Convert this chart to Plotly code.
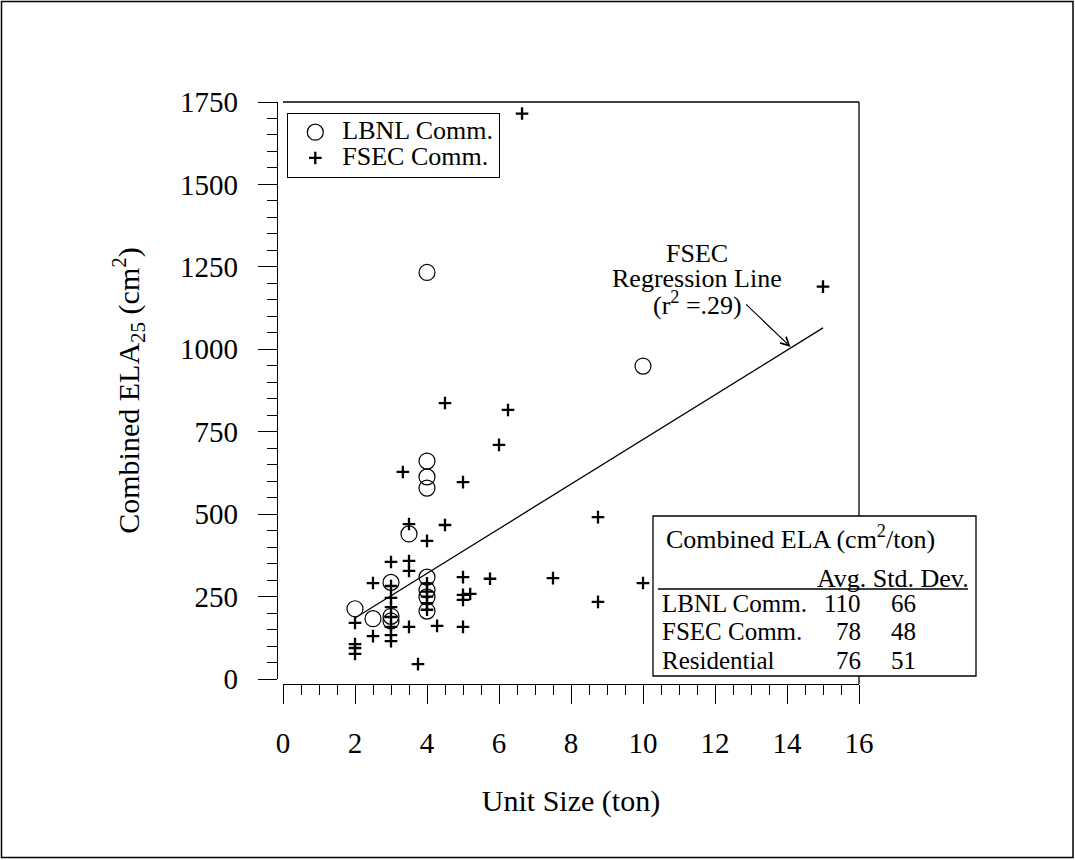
import plotly.graph_objects as go

# ---------------- data ----------------
lbnl_x = [2, 2.5, 3, 3, 3, 3.5, 4, 4, 4, 4, 4, 4, 4, 4, 10]
lbnl_y = [213, 183, 293, 190, 176, 440, 1233, 661, 613, 579, 309, 270, 249, 206, 949]

fsec_x = [2, 2, 2, 2, 2.5, 2.5, 3, 3, 3, 3, 3, 3, 3, 3, 3.33, 3.5, 3.5, 3.5, 3.5,
          3.75, 4, 4, 4, 4, 4, 4, 4.28, 4.5, 4.5, 5, 5, 5, 5, 5, 5.2, 5.75, 6,
          6.25, 6.64, 7.5, 8.75, 8.75, 10, 15]
fsec_y = [170, 106, 94, 76, 291, 130, 355, 282, 246, 218, 188, 158, 133, 115, 628,
          470, 358, 328, 158, 45, 419, 290, 265, 250, 230, 210, 161, 837, 467, 597,
          309, 255, 240, 158, 258, 304, 710, 816, 1715, 306, 491, 234, 291, 1190]

reg_x = [2, 15]
reg_y = [185, 1065]

x_ticks = [0, 2, 4, 6, 8, 10, 12, 14, 16]
y_ticks = [0, 250, 500, 750, 1000, 1250, 1500, 1750]

series_names = ["LBNL Comm.", "FSEC Comm."]

table_title = "Combined ELA (cm<sup>2</sup>/ton)"
table_header = "Avg. Std. Dev."
table_rows = ["LBNL Comm.", "FSEC Comm.", "Residential"]
table_avg = [110, 78, 76]
table_std = [66, 48, 51]

annot_lines = ["FSEC", "Regression Line", "(r<sup>2</sup> =.29)"]

# ---------------- layout helpers ----------------
W, H = 1075, 860
FONT = "Liberation Serif, Times New Roman, serif"


def fx(px):
    return px / W


def fy(py):
    return 1 - py / H


def big(t):
    return '<span style="font-size:26px">' + t + '</span>'


fig = go.Figure()

fig.add_trace(go.Scatter(
    x=lbnl_x, y=lbnl_y, mode="markers", name=big(series_names[0]),
    marker=dict(symbol="circle-open", size=16, color="black", line=dict(width=1.2)),
))
fig.add_trace(go.Scatter(
    x=fsec_x, y=fsec_y, mode="markers", name=big(series_names[1]),
    marker=dict(symbol="cross-thin-open", size=9, color="black", line=dict(width=2.3, color="black")),
))
fig.add_trace(go.Scatter(
    x=reg_x, y=reg_y, mode="lines", name="FSEC Regression", showlegend=False,
    line=dict(color="black", width=1.3),
))

shapes = [
    # outer border
    dict(type="rect", xref="paper", yref="paper", x0=fx(1.5), x1=fx(1073), y0=fy(857.5), y1=fy(1.5),
         line=dict(color="black", width=1.5), layer="above"),
    # top frame
    dict(type="line", xref="paper", yref="paper", x0=fx(283), x1=fx(859), y0=fy(102), y1=fy(102),
         line=dict(color="black", width=1.3), layer="above"),
    # right frame
    dict(type="line", xref="paper", yref="paper", x0=fx(859), x1=fx(859), y0=fy(102), y1=fy(684),
         line=dict(color="black", width=1.3), layer="above"),
    # table box
    dict(type="rect", xref="paper", yref="paper", x0=fx(653), x1=fx(976), y0=fy(676), y1=fy(516),
         line=dict(color="black", width=1.3), fillcolor="white", layer="above"),
    # table rule
    dict(type="line", xref="paper", yref="paper", x0=fx(658), x1=fx(968), y0=fy(589), y1=fy(589),
         line=dict(color="black", width=1.3), layer="above"),
]

ann = []
# regression annotation text
for i, t in enumerate(annot_lines):
    ann.append(dict(xref="paper", yref="paper", x=fx(697), y=fy(254 + 24.5 * i), text=t,
                    showarrow=False, xanchor="center", yanchor="middle",
                    font=dict(family=FONT, size=26, color="black")))
# arrow
ann.append(dict(xref="x", yref="y", x=14.1, y=1007, ax=-46, ay=-44, text="",
                showarrow=True, arrowhead=5, arrowsize=1.4, arrowwidth=1.2, arrowcolor="black"))

# table
tf = dict(family=FONT, size=25, color="black")
ann.append(dict(xref="paper", yref="paper", x=fx(664), y=fy(537), text=table_title, showarrow=False,
                xanchor="left", yanchor="middle", font=dict(family=FONT, size=26, color="black")))
ann.append(dict(xref="paper", yref="paper", x=fx(971), y=fy(578), text=table_header, showarrow=False,
                xanchor="right", yanchor="middle", font=dict(family=FONT, size=26, color="black")))
for i, (r, a, s) in enumerate(zip(table_rows, table_avg, table_std)):
    yy = fy(603 + 28.5 * i)
    ann.append(dict(xref="paper", yref="paper", x=fx(660), y=yy, text=r, showarrow=False,
                    xanchor="left", yanchor="middle", font=tf))
    ann.append(dict(xref="paper", yref="paper", x=fx(863), y=yy, text=str(a), showarrow=False,
                    xanchor="right", yanchor="middle", font=tf))
    ann.append(dict(xref="paper", yref="paper", x=fx(889), y=yy, text=str(s), showarrow=False,
                    xanchor="left", yanchor="middle", font=tf))

fig.update_layout(
    template="none",
    width=W, height=H,
    margin=dict(l=0, r=0, t=0, b=0, pad=0, autoexpand=False),
    paper_bgcolor="white", plot_bgcolor="white",
    font=dict(family=FONT, size=29, color="black"),
    showlegend=True,
    legend=dict(x=fx(287), y=fy(113), xanchor="left", yanchor="top",
                bordercolor="black", borderwidth=1.3, bgcolor="white",
                font=dict(family=FONT, size=17.5, color="black"),
                tracegroupgap=0, itemsizing="trace", itemwidth=44),
    xaxis=dict(domain=[fx(283), fx(859)], range=[0, 16], anchor="free", position=fy(684),
               automargin=False,
               tickvals=x_ticks, ticktext=[str(v) for v in x_ticks],
               ticks="outside", ticklen=19, tickwidth=1.3, tickcolor="black",
               showline=True, linecolor="black", linewidth=1.3, showgrid=False, zeroline=False,
               minor=dict(dtick=0.5, ticks="outside", ticklen=10, tickwidth=1.3, tickcolor="black"),
               tickfont=dict(size=29), ticklabelstandoff=14,
               title=dict(text="Unit Size (ton)", font=dict(size=30), standoff=32)),
    yaxis=dict(domain=[fy(679), fy(102)], range=[0, 1750], anchor="free", position=fx(277),
               automargin=False,
               tickvals=y_ticks, ticktext=[str(v) for v in y_ticks],
               ticks="outside", ticklen=19, tickwidth=1.3, tickcolor="black",
               showline=True, linecolor="black", linewidth=1.3, showgrid=False, zeroline=False,
               minor=dict(dtick=50, ticks="outside", ticklen=10, tickwidth=1.3, tickcolor="black"),
               tickfont=dict(size=29), ticklabelstandoff=14,
               title=dict(text="Combined ELA<sub>25</sub> (cm<sup>2</sup>)", font=dict(size=30), standoff=30)),
    shapes=shapes,
    annotations=ann,
)

fig.write_html("out.html", config={"displayModeBar": False},
               post_script="document.body.style.margin='0';document.body.style.overflow='hidden';")
